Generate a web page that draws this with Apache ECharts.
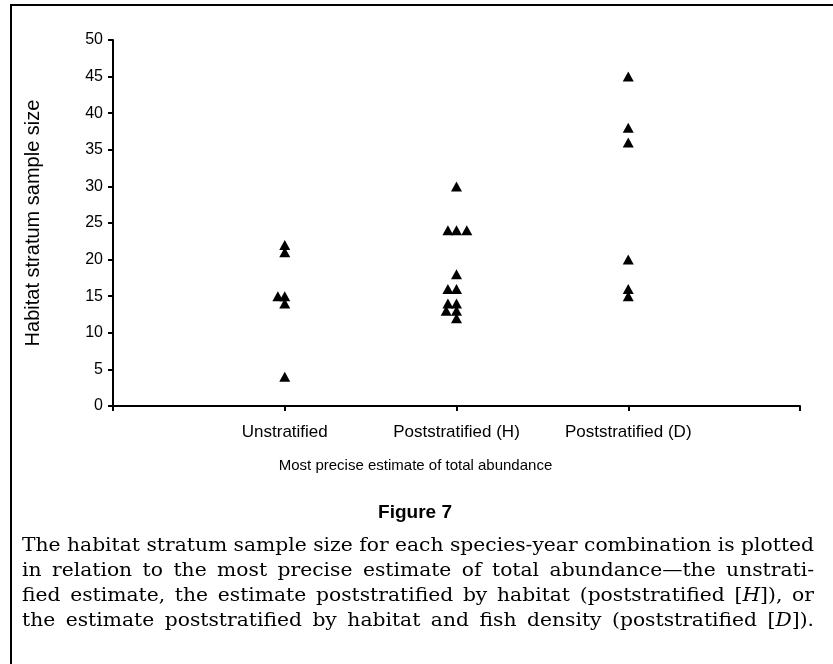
<!DOCTYPE html>
<html>
<head>
<meta charset="utf-8">
<script src="https://cdn.jsdelivr.net/npm/echarts@6/dist/echarts.min.js"></script>
<style>
  html, body { margin: 0; padding: 0; background: #fff; }
  #chart { width: 833px; height: 664px; }
</style>
</head>
<body>
<div id="chart"></div>
<script>
// categories on the x axis (placed at x = 1, 2, 3)
const categories = ['Unstratified', 'Poststratified (H)', 'Poststratified (D)'];

// habitat stratum sample sizes
const unstratified = [22, 21, 15, 15, 14, 4];
const unstratifiedJitter = [0, 0, -0.04, 0, 0, 0];
const poststratH = [30, 24, 24, 24, 18, 16, 16, 14, 14, 13, 13, 12];
const poststratHJitter = [0, -0.05, 0, 0.06, 0, -0.05, 0, -0.05, 0, -0.06, 0, 0];
const poststratD = [45, 38, 36, 20, 16, 15];
const poststratDJitter = [0, 0, 0, 0, 0, 0];

const yTicks = [0, 5, 10, 15, 20, 25, 30, 35, 40, 45, 50];

const captionLines = [
  'The habitat stratum sample size for each species-year combination is plotted',
  'in relation to the most precise estimate of total abundance\u2014the unstrati-',
  'fied estimate, the estimate poststratified by habitat (poststratified [_H_]), or',
  'the estimate poststratified by habitat and fish density (poststratified [_D_]).'
];

const chart = echarts.init(document.getElementById('chart'));

function points(values, jitter, pos) {
  return values.map((v, i) => [pos + jitter[i], v]);
}

// --- justified caption, one text element per word ---
const capFont = 'DejaVu Serif';
const capSize = 18;
const capLeft = 22, capRight = 814;
const ctx = document.createElement('canvas').getContext('2d');
function measure(txt, italic) {
  ctx.font = (italic ? 'italic ' : '') + capSize + 'px "' + capFont + '"';
  return ctx.measureText(txt).width;
}
function wordInfo(word) {
  const parts = word.split('_');
  let w = 0, rich = '';
  parts.forEach((p, k) => {
    if (!p) return;
    const it = k % 2 === 1;
    w += measure(p, it);
    rich += it ? '{i|' + p + '}' : p;
  });
  return { w, rich };
}
// horizontal stretch so the first line fits with ordinary word spacing
const spaceW = measure(' ', false);
const firstWords = captionLines[0].split(' ').map(wordInfo);
const firstNatural = firstWords.reduce((s, o) => s + o.w, 0) + spaceW * (firstWords.length - 1);
const capScale = (capRight - capLeft) / firstNatural;

const captionGraphics = [];
captionLines.forEach((line, li) => {
  const words = line.split(' ').map(wordInfo);
  const total = words.reduce((s, o) => s + o.w * capScale, 0);
  const gap = (capRight - capLeft - total) / (words.length - 1);
  let x = capLeft;
  words.forEach(o => {
    captionGraphics.push({
      type: 'text',
      x: x,
      y: 546 + li * 25,
      scaleX: capScale,
      style: {
        text: o.rich,
        fontFamily: capFont,
        fontSize: capSize,
        fill: '#000',
        verticalAlign: 'middle',
        rich: { i: { fontStyle: 'italic', fontFamily: capFont, fontSize: capSize, fill: '#000' } }
      }
    });
    x += o.w * capScale + gap;
  });
});

const axisFont = 'Liberation Sans, Arial, sans-serif';
const triangle = { type: 'scatter', symbol: 'triangle', symbolSize: [11, 10],
                   itemStyle: { color: '#000', opacity: 1 } };

const option = {
  backgroundColor: '#fff',
  animation: false,
  grid: { left: 113, top: 40, width: 687, height: 366 },
  xAxis: {
    type: 'value',
    min: 0,
    max: 4,
    interval: 1,
    name: 'Most precise estimate of total abundance',
    nameLocation: 'middle',
    nameGap: 52,
    nameTextStyle: { color: '#000', fontSize: 15, fontFamily: axisFont, padding: [0, 82, 0, 0] },
    axisLine: { onZero: false, lineStyle: { color: '#000', width: 2 } },
    axisTick: { show: true, length: 5, inside: false, lineStyle: { color: '#000', width: 2 } },
    axisLabel: {
      color: '#000', fontSize: 17, fontFamily: axisFont, margin: 18,
      formatter: v => categories[v - 1] || ''
    },
    splitLine: { show: false }
  },
  yAxis: {
    type: 'value',
    min: yTicks[0],
    max: yTicks[yTicks.length - 1],
    interval: 5,
    name: 'Habitat stratum sample size',
    nameLocation: 'middle',
    nameGap: 70,
    nameTextStyle: { color: '#000', fontSize: 20, fontFamily: axisFont },
    axisLine: { show: true, lineStyle: { color: '#000', width: 2 } },
    axisTick: { show: true, length: 5, inside: false, lineStyle: { color: '#000', width: 2 } },
    axisLabel: { color: '#000', fontSize: 16, fontFamily: axisFont, margin: 10 },
    splitLine: { show: false }
  },
  series: [
    Object.assign({}, triangle, { data: points(unstratified, unstratifiedJitter, 1) }),
    Object.assign({}, triangle, { data: points(poststratH, poststratHJitter, 2) }),
    Object.assign({}, triangle, { data: points(poststratD, poststratDJitter, 3) })
  ],
  graphic: [
    // frame around the figure (only left and top edges are in view)
    { type: 'polyline', shape: { points: [[11, 664], [11, 5], [833, 5]] },
      style: { stroke: '#000', lineWidth: 2, fill: null } },
    { type: 'text', x: 415, y: 513,
      style: { text: 'Figure 7', fontFamily: axisFont, fontWeight: 'bold', fontSize: 19,
               fill: '#000', align: 'center', verticalAlign: 'middle' } }
  ].concat(captionGraphics)
};

chart.setOption(option);
</script>
</body>
</html>
